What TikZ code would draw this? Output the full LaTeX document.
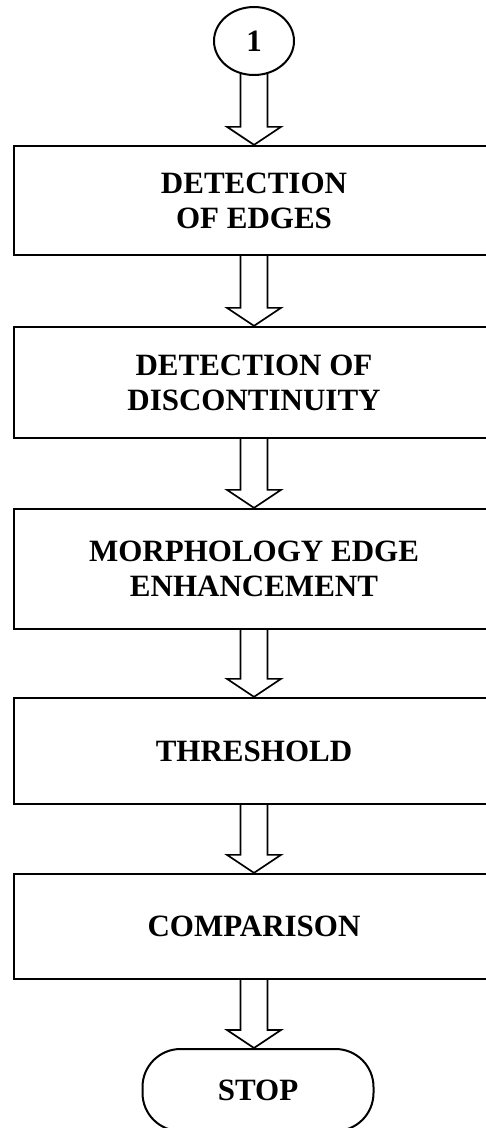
\documentclass[tikz,border=0pt]{standalone}
\usepackage{fontspec}
\setmainfont{Liberation Serif}
\usetikzlibrary{calc,shapes.geometric,backgrounds}

\tikzset{
  lbl/.style={font=\fontsize{31}{35}\selectfont\bfseries, align=center},
  procbox/.style={lbl, draw, line width=2.3pt, fill=white, minimum width=480pt, inner sep=0pt},
  connector/.style={draw, ellipse, line width=2pt, fill=white, minimum width=80pt, minimum height=68pt, inner sep=0pt, lbl},
  terminal/.style={draw, line width=2pt, fill=white, rounded corners=38pt, minimum width=231pt, minimum height=82pt, inner sep=0pt, lbl},
  hollowarrow/.style={draw, line width=1.7pt, fill=white, line join=miter}
}

% hollow block arrow straight down from the bottom of #1 to the top edge of #2
\newcommand{\flowarrow}[2]{%
  \coordinate (tip) at (#1.south |- #2.north);
  \draw[hollowarrow]
    ($(#1.south)+(-13.5,-2)$) -- ($(tip)+(-13.5,-18)$) -- ($(tip)+(-27,-18)$)
    -- (tip) -- ($(tip)+(27,-18)$) -- ($(tip)+(13.5,-18)$)
    -- ($(#1.south)+(13.5,-2)$);}

\begin{document}
\begin{tikzpicture}[x=1pt, y=-1pt]
  \useasboundingbox (0,0) rectangle (486,1128);
  \clip (0,0) rectangle (486,1128);

  \node[connector] (start) at (254,41) {1};
  \node[procbox, minimum height=109pt] (edges) at (254,200.5) {DETECTION\\OF EDGES};
  \node[procbox, minimum height=111pt] (discont) at (254,382.5) {DETECTION OF\\DISCONTINUITY};
  \node[procbox, minimum height=120pt] (morph) at (254,569) {MORPHOLOGY EDGE\\ENHANCEMENT};
  \node[procbox, minimum height=106pt] (thresh) at (254,751) {THRESHOLD};
  \node[procbox, minimum height=105pt] (compare) at (254,926.5) {COMPARISON};
  \node[terminal] (stop) at (258,1090) {STOP};

  \begin{scope}[on background layer]
    \flowarrow{start}{edges}
    \flowarrow{edges}{discont}
    \flowarrow{discont}{morph}
    \flowarrow{morph}{thresh}
    \flowarrow{thresh}{compare}
    \flowarrow{compare}{stop}
  \end{scope}
\end{tikzpicture}
\end{document}
